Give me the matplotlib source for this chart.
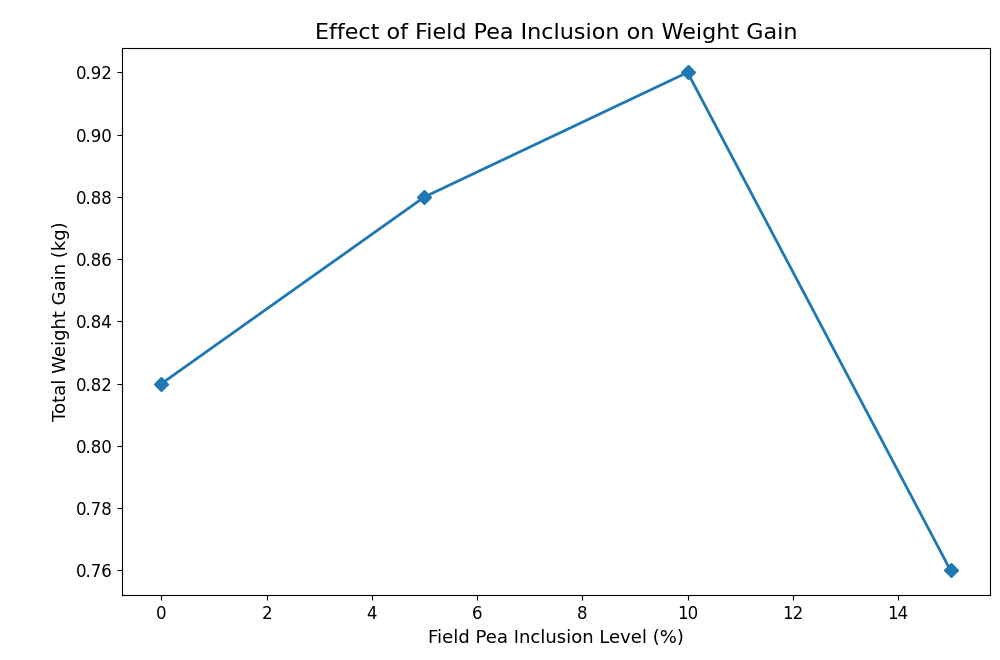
import matplotlib.pyplot as plt

# inclusion levels and weight gain
levels = [0, 5, 10, 15]
gain = [0.82, 0.88, 0.92, 0.76]

fig, ax = plt.subplots(figsize=(10, 6.6), dpi=100)

ax.plot(levels, gain, marker='D', color='#1f77b4', linewidth=2, markersize=7)

ax.set_title('Effect of Field Pea Inclusion on Weight Gain', fontsize=16)
ax.set_xlabel('Field Pea Inclusion Level (%)', fontsize=13)
ax.set_ylabel('Total Weight Gain (kg)', fontsize=13)
ax.tick_params(labelsize=12)

plt.subplots_adjust(left=0.122, right=0.99, top=0.928, bottom=0.098)
plt.savefig('out.png', dpi=100)
